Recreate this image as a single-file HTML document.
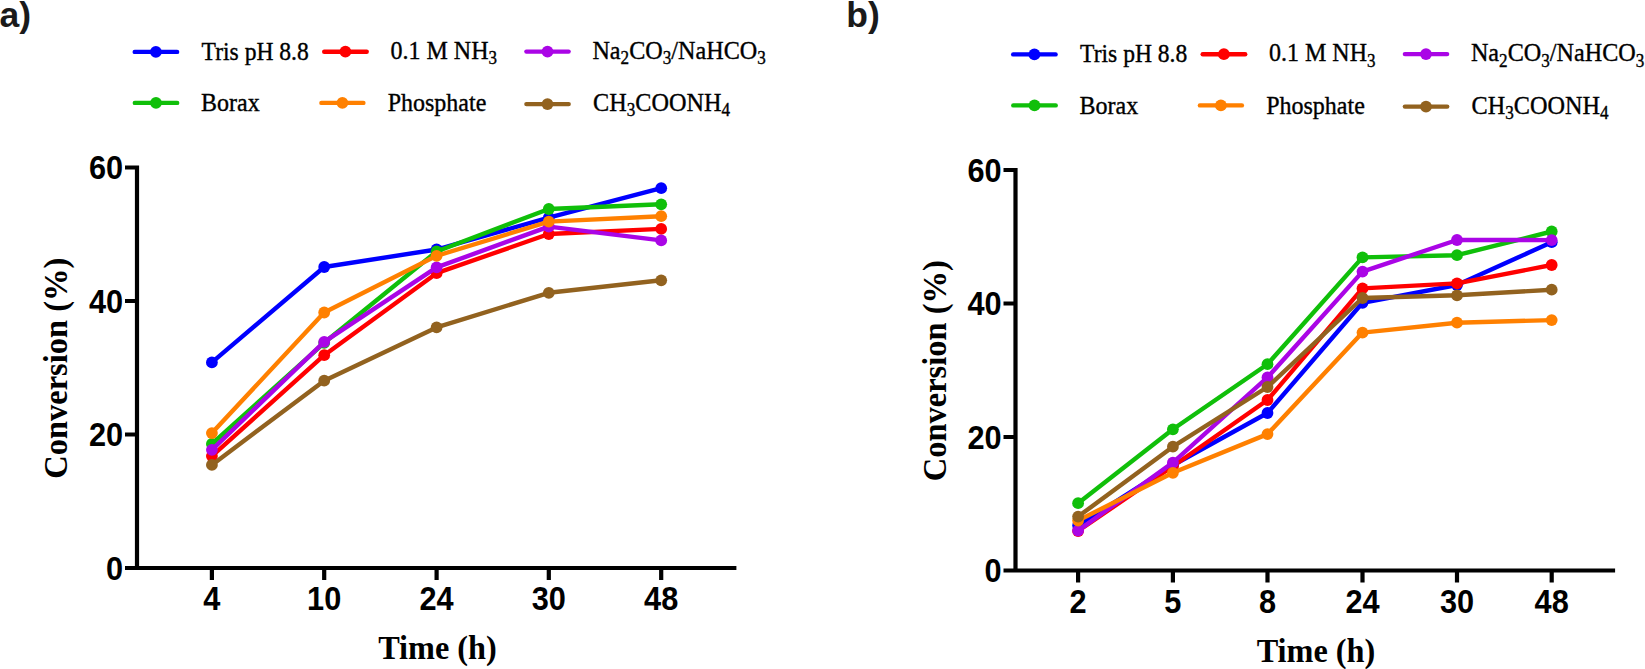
<!DOCTYPE html>
<html><head><meta charset="utf-8"><title>Conversion vs time</title>
<style>
html,body{margin:0;padding:0;background:#fff;}
svg{display:block;}
.pl{font-family:"Liberation Sans",Arial,sans-serif;font-weight:bold;font-size:35.5px;fill:#1a1a1a;}
.tk{font-family:"Liberation Sans",Arial,sans-serif;font-weight:bold;font-size:32px;fill:#000;}
.at{font-family:"Liberation Serif","Times New Roman",serif;font-weight:bold;font-size:32.3px;fill:#000;}
.lg{font-family:"Liberation Serif","Times New Roman",serif;font-size:24px;fill:#000;stroke:#000;stroke-width:0.35px;}
.sb{font-size:17px;}
</style></head><body>
<svg width="1645" height="669" viewBox="0 0 1645 669">
<rect width="1645" height="669" fill="#fff"/>
<g>
<text x="-0.5" y="27" class="pl">a)</text>
<line x1="134.7" y1="51.9" x2="177.1" y2="51.9" stroke="#0000FF" stroke-width="4.4" stroke-linecap="round"/><circle cx="155.9" cy="51.9" r="5.9" fill="#0000FF"/><text transform="translate(201.6 59.8) scale(1 1.09)" class="lg" textLength="107.2" lengthAdjust="spacingAndGlyphs">Tris pH 8.8</text>
<line x1="324.2" y1="51.7" x2="366.7" y2="51.7" stroke="#FF0000" stroke-width="4.4" stroke-linecap="round"/><circle cx="345.4" cy="51.7" r="5.9" fill="#FF0000"/><text transform="translate(390.5 58.9) scale(1 1.09)" class="lg">0.1 M NH<tspan class="sb" dy="4.9">3</tspan><tspan dy="-4.9">&#8203;</tspan></text>
<line x1="526.4" y1="51.6" x2="568.6" y2="51.6" stroke="#AA05E6" stroke-width="4.4" stroke-linecap="round"/><circle cx="547.5" cy="51.6" r="5.9" fill="#AA05E6"/><text transform="translate(592.4 58.8) scale(1 1.09)" class="lg" textLength="173.4" lengthAdjust="spacingAndGlyphs">Na<tspan class="sb" dy="4.9">2</tspan><tspan dy="-4.9">&#8203;</tspan>CO<tspan class="sb" dy="4.9">3</tspan><tspan dy="-4.9">&#8203;</tspan>/NaHCO<tspan class="sb" dy="4.9">3</tspan><tspan dy="-4.9">&#8203;</tspan></text>
<line x1="134.8" y1="102.9" x2="177.2" y2="102.9" stroke="#10BF0A" stroke-width="4.4" stroke-linecap="round"/><circle cx="156.0" cy="102.9" r="5.9" fill="#10BF0A"/><text transform="translate(201.0 111) scale(1 1.09)" class="lg">Borax</text>
<line x1="321.4" y1="102.9" x2="363.4" y2="102.9" stroke="#FF8000" stroke-width="4.4" stroke-linecap="round"/><circle cx="342.4" cy="102.9" r="5.9" fill="#FF8000"/><text transform="translate(387.7 111) scale(1 1.09)" class="lg">Phosphate</text>
<line x1="526.4" y1="104.1" x2="568.7" y2="104.1" stroke="#92621F" stroke-width="4.4" stroke-linecap="round"/><circle cx="547.5" cy="104.1" r="5.9" fill="#92621F"/><text transform="translate(593.0 111) scale(1 1.09)" class="lg" textLength="137.0" lengthAdjust="spacingAndGlyphs">CH<tspan class="sb" dy="4.9">3</tspan><tspan dy="-4.9">&#8203;</tspan>COONH<tspan class="sb" dy="4.9">4</tspan><tspan dy="-4.9">&#8203;</tspan></text>
<polyline points="211.9,362.4 324.2,267.0 436.6,249.5 548.8,217.6 661.2,188.2" fill="none" stroke="#0000FF" stroke-width="4.4" stroke-linejoin="round" stroke-linecap="round"/>
<circle cx="211.9" cy="362.4" r="5.9" fill="#0000FF"/><circle cx="324.2" cy="267.0" r="5.9" fill="#0000FF"/><circle cx="436.6" cy="249.5" r="5.9" fill="#0000FF"/><circle cx="548.8" cy="217.6" r="5.9" fill="#0000FF"/><circle cx="661.2" cy="188.2" r="5.9" fill="#0000FF"/>
<polyline points="211.9,444.0 324.2,342.8 436.6,251.5 548.8,209.0 661.2,204.3" fill="none" stroke="#10BF0A" stroke-width="4.4" stroke-linejoin="round" stroke-linecap="round"/>
<circle cx="211.9" cy="444.0" r="5.9" fill="#10BF0A"/><circle cx="324.2" cy="342.8" r="5.9" fill="#10BF0A"/><circle cx="436.6" cy="251.5" r="5.9" fill="#10BF0A"/><circle cx="548.8" cy="209.0" r="5.9" fill="#10BF0A"/><circle cx="661.2" cy="204.3" r="5.9" fill="#10BF0A"/>
<polyline points="211.9,456.1 324.2,355.2 436.6,273.2 548.8,234.0 661.2,228.9" fill="none" stroke="#FF0000" stroke-width="4.4" stroke-linejoin="round" stroke-linecap="round"/>
<circle cx="211.9" cy="456.1" r="5.9" fill="#FF0000"/><circle cx="324.2" cy="355.2" r="5.9" fill="#FF0000"/><circle cx="436.6" cy="273.2" r="5.9" fill="#FF0000"/><circle cx="548.8" cy="234.0" r="5.9" fill="#FF0000"/><circle cx="661.2" cy="228.9" r="5.9" fill="#FF0000"/>
<polyline points="211.9,449.8 324.2,341.9 436.6,267.4 548.8,226.6 661.2,240.4" fill="none" stroke="#AA05E6" stroke-width="4.4" stroke-linejoin="round" stroke-linecap="round"/>
<circle cx="211.9" cy="449.8" r="5.9" fill="#AA05E6"/><circle cx="324.2" cy="341.9" r="5.9" fill="#AA05E6"/><circle cx="436.6" cy="267.4" r="5.9" fill="#AA05E6"/><circle cx="548.8" cy="226.6" r="5.9" fill="#AA05E6"/><circle cx="661.2" cy="240.4" r="5.9" fill="#AA05E6"/>
<polyline points="211.9,433.1 324.2,312.5 436.6,255.8 548.8,221.6 661.2,216.2" fill="none" stroke="#FF8000" stroke-width="4.4" stroke-linejoin="round" stroke-linecap="round"/>
<circle cx="211.9" cy="433.1" r="5.9" fill="#FF8000"/><circle cx="324.2" cy="312.5" r="5.9" fill="#FF8000"/><circle cx="436.6" cy="255.8" r="5.9" fill="#FF8000"/><circle cx="548.8" cy="221.6" r="5.9" fill="#FF8000"/><circle cx="661.2" cy="216.2" r="5.9" fill="#FF8000"/>
<polyline points="211.9,464.9 324.2,380.7 436.6,327.4 548.8,292.8 661.2,280.3" fill="none" stroke="#92621F" stroke-width="4.4" stroke-linejoin="round" stroke-linecap="round"/>
<circle cx="211.9" cy="464.9" r="5.9" fill="#92621F"/><circle cx="324.2" cy="380.7" r="5.9" fill="#92621F"/><circle cx="436.6" cy="327.4" r="5.9" fill="#92621F"/><circle cx="548.8" cy="292.8" r="5.9" fill="#92621F"/><circle cx="661.2" cy="280.3" r="5.9" fill="#92621F"/>
<path d="M137 165.4 V570 M125 167.5 H139.1 M125 301 H137 M125 434.5 H137 M125 568 H736.4 M211.9 568 V580 M324.2 568 V580 M436.6 568 V580 M548.8 568 V580 M661.2 568 V580" stroke="#000" stroke-width="4.2" fill="none"/>
<text transform="translate(123.1 179.3) scale(0.96 1.04)" class="tk" text-anchor="end">60</text><text transform="translate(123.1 312.8) scale(0.96 1.04)" class="tk" text-anchor="end">40</text><text transform="translate(123.1 446.3) scale(0.96 1.04)" class="tk" text-anchor="end">20</text><text transform="translate(123.1 579.8) scale(0.96 1.04)" class="tk" text-anchor="end">0</text>
<text transform="translate(211.9 610.3) scale(0.96 1.04)" class="tk" text-anchor="middle">4</text><text transform="translate(324.2 610.3) scale(0.96 1.04)" class="tk" text-anchor="middle">10</text><text transform="translate(436.6 610.3) scale(0.96 1.04)" class="tk" text-anchor="middle">24</text><text transform="translate(548.8 610.3) scale(0.96 1.04)" class="tk" text-anchor="middle">30</text><text transform="translate(661.2 610.3) scale(0.96 1.04)" class="tk" text-anchor="middle">48</text>
<text transform="translate(437.5 659.1) scale(1 1.02)" class="at" text-anchor="middle">Time (h)</text>
<text transform="translate(67.4 368.2) rotate(-90) scale(1 1.02)" class="at" style="font-size:32.5px" text-anchor="middle">Conversion (%)</text>

</g>
<g transform="translate(878.5 2.5)">
<text x="-32.3" y="24.5" class="pl">b)</text>
<line x1="134.7" y1="51.9" x2="177.1" y2="51.9" stroke="#0000FF" stroke-width="4.4" stroke-linecap="round"/><circle cx="155.9" cy="51.9" r="5.9" fill="#0000FF"/><text transform="translate(201.6 59.8) scale(1 1.09)" class="lg" textLength="107.2" lengthAdjust="spacingAndGlyphs">Tris pH 8.8</text>
<line x1="324.2" y1="51.7" x2="366.7" y2="51.7" stroke="#FF0000" stroke-width="4.4" stroke-linecap="round"/><circle cx="345.4" cy="51.7" r="5.9" fill="#FF0000"/><text transform="translate(390.5 58.9) scale(1 1.09)" class="lg">0.1 M NH<tspan class="sb" dy="4.9">3</tspan><tspan dy="-4.9">&#8203;</tspan></text>
<line x1="526.4" y1="51.6" x2="568.6" y2="51.6" stroke="#AA05E6" stroke-width="4.4" stroke-linecap="round"/><circle cx="547.5" cy="51.6" r="5.9" fill="#AA05E6"/><text transform="translate(592.4 58.8) scale(1 1.09)" class="lg" textLength="173.4" lengthAdjust="spacingAndGlyphs">Na<tspan class="sb" dy="4.9">2</tspan><tspan dy="-4.9">&#8203;</tspan>CO<tspan class="sb" dy="4.9">3</tspan><tspan dy="-4.9">&#8203;</tspan>/NaHCO<tspan class="sb" dy="4.9">3</tspan><tspan dy="-4.9">&#8203;</tspan></text>
<line x1="134.8" y1="102.9" x2="177.2" y2="102.9" stroke="#10BF0A" stroke-width="4.4" stroke-linecap="round"/><circle cx="156.0" cy="102.9" r="5.9" fill="#10BF0A"/><text transform="translate(201.0 111) scale(1 1.09)" class="lg">Borax</text>
<line x1="321.4" y1="102.9" x2="363.4" y2="102.9" stroke="#FF8000" stroke-width="4.4" stroke-linecap="round"/><circle cx="342.4" cy="102.9" r="5.9" fill="#FF8000"/><text transform="translate(387.7 111) scale(1 1.09)" class="lg">Phosphate</text>
<line x1="526.4" y1="104.1" x2="568.7" y2="104.1" stroke="#92621F" stroke-width="4.4" stroke-linecap="round"/><circle cx="547.5" cy="104.1" r="5.9" fill="#92621F"/><text transform="translate(593.0 111) scale(1 1.09)" class="lg" textLength="137.0" lengthAdjust="spacingAndGlyphs">CH<tspan class="sb" dy="4.9">3</tspan><tspan dy="-4.9">&#8203;</tspan>COONH<tspan class="sb" dy="4.9">4</tspan><tspan dy="-4.9">&#8203;</tspan></text>
<polyline points="199.6,523.0 294.4,462.7 389.0,410.5 484.0,300.3 578.5,282.5 673.2,239.7" fill="none" stroke="#0000FF" stroke-width="4.4" stroke-linejoin="round" stroke-linecap="round"/>
<circle cx="199.6" cy="523.0" r="5.9" fill="#0000FF"/><circle cx="294.4" cy="462.7" r="5.9" fill="#0000FF"/><circle cx="389.0" cy="410.5" r="5.9" fill="#0000FF"/><circle cx="484.0" cy="300.3" r="5.9" fill="#0000FF"/><circle cx="578.5" cy="282.5" r="5.9" fill="#0000FF"/><circle cx="673.2" cy="239.7" r="5.9" fill="#0000FF"/>
<polyline points="199.6,500.7 294.4,426.8 389.0,361.7 484.0,254.9 578.5,252.7 673.2,229.0" fill="none" stroke="#10BF0A" stroke-width="4.4" stroke-linejoin="round" stroke-linecap="round"/>
<circle cx="199.6" cy="500.7" r="5.9" fill="#10BF0A"/><circle cx="294.4" cy="426.8" r="5.9" fill="#10BF0A"/><circle cx="389.0" cy="361.7" r="5.9" fill="#10BF0A"/><circle cx="484.0" cy="254.9" r="5.9" fill="#10BF0A"/><circle cx="578.5" cy="252.7" r="5.9" fill="#10BF0A"/><circle cx="673.2" cy="229.0" r="5.9" fill="#10BF0A"/>
<polyline points="199.6,528.5 294.4,463.7 389.0,397.5 484.0,285.9 578.5,280.9 673.2,262.5" fill="none" stroke="#FF0000" stroke-width="4.4" stroke-linejoin="round" stroke-linecap="round"/>
<circle cx="199.6" cy="528.5" r="5.9" fill="#FF0000"/><circle cx="294.4" cy="463.7" r="5.9" fill="#FF0000"/><circle cx="389.0" cy="397.5" r="5.9" fill="#FF0000"/><circle cx="484.0" cy="285.9" r="5.9" fill="#FF0000"/><circle cx="578.5" cy="280.9" r="5.9" fill="#FF0000"/><circle cx="673.2" cy="262.5" r="5.9" fill="#FF0000"/>
<polyline points="199.6,528.1 294.4,460.1 389.0,374.9 484.0,269.1 578.5,237.5 673.2,237.6" fill="none" stroke="#AA05E6" stroke-width="4.4" stroke-linejoin="round" stroke-linecap="round"/>
<circle cx="199.6" cy="528.1" r="5.9" fill="#AA05E6"/><circle cx="294.4" cy="460.1" r="5.9" fill="#AA05E6"/><circle cx="389.0" cy="374.9" r="5.9" fill="#AA05E6"/><circle cx="484.0" cy="269.1" r="5.9" fill="#AA05E6"/><circle cx="578.5" cy="237.5" r="5.9" fill="#AA05E6"/><circle cx="673.2" cy="237.6" r="5.9" fill="#AA05E6"/>
<polyline points="199.6,518.0 294.4,470.3 389.0,431.6 484.0,330.1 578.5,320.2 673.2,317.6" fill="none" stroke="#FF8000" stroke-width="4.4" stroke-linejoin="round" stroke-linecap="round"/>
<circle cx="199.6" cy="518.0" r="5.9" fill="#FF8000"/><circle cx="294.4" cy="470.3" r="5.9" fill="#FF8000"/><circle cx="389.0" cy="431.6" r="5.9" fill="#FF8000"/><circle cx="484.0" cy="330.1" r="5.9" fill="#FF8000"/><circle cx="578.5" cy="320.2" r="5.9" fill="#FF8000"/><circle cx="673.2" cy="317.6" r="5.9" fill="#FF8000"/>
<polyline points="199.6,514.1 294.4,444.2 389.0,384.5 484.0,295.5 578.5,292.8 673.2,287.2" fill="none" stroke="#92621F" stroke-width="4.4" stroke-linejoin="round" stroke-linecap="round"/>
<circle cx="199.6" cy="514.1" r="5.9" fill="#92621F"/><circle cx="294.4" cy="444.2" r="5.9" fill="#92621F"/><circle cx="389.0" cy="384.5" r="5.9" fill="#92621F"/><circle cx="484.0" cy="295.5" r="5.9" fill="#92621F"/><circle cx="578.5" cy="292.8" r="5.9" fill="#92621F"/><circle cx="673.2" cy="287.2" r="5.9" fill="#92621F"/>
<path d="M137 165.4 V570 M125 167.5 H139.1 M125 301 H137 M125 434.5 H137 M125 568 H736.6 M199.6 568 V580 M294.4 568 V580 M389.0 568 V580 M484.0 568 V580 M578.5 568 V580 M673.2 568 V580" stroke="#000" stroke-width="4.2" fill="none"/>
<text transform="translate(123.1 179.3) scale(0.96 1.04)" class="tk" text-anchor="end">60</text><text transform="translate(123.1 312.8) scale(0.96 1.04)" class="tk" text-anchor="end">40</text><text transform="translate(123.1 446.3) scale(0.96 1.04)" class="tk" text-anchor="end">20</text><text transform="translate(123.1 579.8) scale(0.96 1.04)" class="tk" text-anchor="end">0</text>
<text transform="translate(199.6 610.3) scale(0.96 1.04)" class="tk" text-anchor="middle">2</text><text transform="translate(294.4 610.3) scale(0.96 1.04)" class="tk" text-anchor="middle">5</text><text transform="translate(389.0 610.3) scale(0.96 1.04)" class="tk" text-anchor="middle">8</text><text transform="translate(484.0 610.3) scale(0.96 1.04)" class="tk" text-anchor="middle">24</text><text transform="translate(578.5 610.3) scale(0.96 1.04)" class="tk" text-anchor="middle">30</text><text transform="translate(673.2 610.3) scale(0.96 1.04)" class="tk" text-anchor="middle">48</text>
<text transform="translate(437.5 659.1) scale(1 1.02)" class="at" text-anchor="middle">Time (h)</text>
<text transform="translate(67.4 368.2) rotate(-90) scale(1 1.02)" class="at" style="font-size:32.5px" text-anchor="middle">Conversion (%)</text>

</g>
</svg>
</body></html>
